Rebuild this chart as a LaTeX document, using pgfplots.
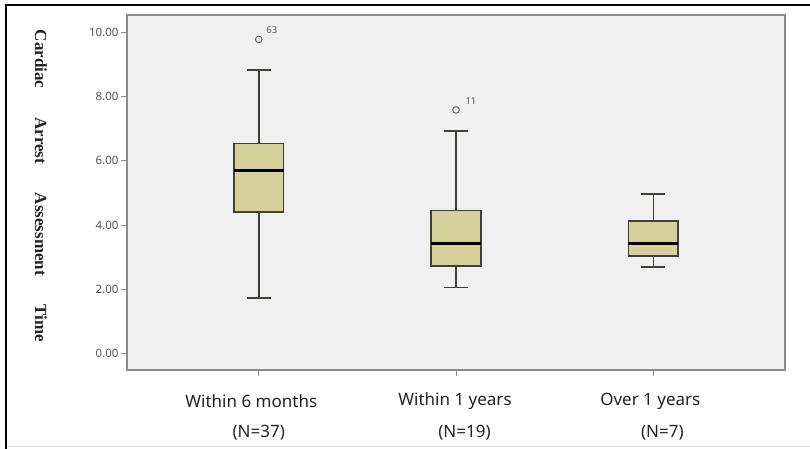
\documentclass[border=0pt]{standalone}
\usepackage{pgfplots}
\pgfplotsset{compat=1.18}
\usepgfplotslibrary{statistics}
\usepackage{fontspec}
\setmainfont{Noto Sans}
\newfontfamily\labelfont{Liberation Serif}
\definecolor{boxfill}{RGB}{214,209,154}
\definecolor{boxedge}{RGB}{65,65,58}
\definecolor{plotbg}{RGB}{240,240,240}
\definecolor{frameg}{RGB}{140,140,140}
\definecolor{ticktxt}{RGB}{85,85,85}
\definecolor{txt}{RGB}{35,35,35}
\begin{document}
\begin{tikzpicture}[x=1pt,y=1pt]
\useasboundingbox (0,0) rectangle (810,449);
\fill[white] (0,0) rectangle (810,449);
\draw[black, line width=2.5pt] (6,0) -- (6,444) -- (810,444);
\draw[black!12, line width=1pt] (7,2) -- (810,2);
\node[rotate=-90, text=txt, font=\labelfont\bfseries\fontsize{17}{17}\selectfont] at (41,263) {\makebox[312pt][s]{Cardiac Arrest Assessment Time}};
\begin{axis}[
  at={(127pt,79pt)}, anchor=south west,
  width=658pt, height=355pt, scale only axis,
  xmin=0.332, xmax=3.668, ymin=-0.52, ymax=10.55,
  clip=false,
  axis background/.style={fill=plotbg},
  axis line style={draw=frameg, line width=1.5pt},
  xtick={1,2,3}, xticklabels={},
  ytick={0,2,4,6,8,10},
  tick pos=left,
  tick align=outside,
  major tick length=6pt,
  tick style={draw=frameg, line width=1pt},
  yticklabel={\pgfmathprintnumber[fixed,fixed zerofill,precision=2,assume math mode=true]{\tick}},
  yticklabel style={font=\fontsize{11.5}{12}\selectfont, text=ticktxt, xshift=1pt},
  boxplot/draw direction=y,
  boxplot/every box/.style={draw=boxedge, fill=boxfill, line width=1.5pt},
  boxplot/every whisker/.style={draw=boxedge, line width=1.5pt},
  boxplot/every median/.style={draw=black, line width=2.4pt},
]
\addplot[boxplot prepared={draw position=1, lower whisker=1.73, lower quartile=4.40, median=5.70, upper quartile=6.55, upper whisker=8.84, box extend=0.253, whisker extend=0.122},
  mark=o, mark size=3.3pt, mark options={draw=black!60, line width=1pt}] table[row sep=\\, y index=0] {9.79\\};
\addplot[boxplot prepared={draw position=2, lower whisker=2.06, lower quartile=2.73, median=3.42, upper quartile=4.45, upper whisker=6.93, box extend=0.253, whisker extend=0.122},
  mark=o, mark size=3.3pt, mark options={draw=black!60, line width=1pt}] table[row sep=\\, y index=0] {7.59\\};
\addplot[boxplot prepared={draw position=3, lower whisker=2.69, lower quartile=3.04, median=3.43, upper quartile=4.12, upper whisker=4.97, box extend=0.253, whisker extend=0.122}] coordinates {};
\node[font=\fontsize{9.5}{10}\selectfont, text=black!65] at (axis cs:1.066,10.07) {63};
\node[font=\fontsize{9.5}{10}\selectfont, text=black!65] at (axis cs:2.076,7.85) {11};
\node[font=\fontsize{17}{18}\selectfont, text=txt] at (axis cs:0.962,-1.49) {Within 6 months};
\node[font=\fontsize{17}{18}\selectfont, text=txt] at (axis cs:1.995,-1.49) {Within 1 years};
\node[font=\fontsize{17}{18}\selectfont, text=txt] at (axis cs:2.985,-1.49) {Over 1 years};
\node[font=\fontsize{17}{18}\selectfont, text=txt] at (axis cs:1.0,-2.49) {(N=37)};
\node[font=\fontsize{17}{18}\selectfont, text=txt] at (axis cs:2.043,-2.49) {(N=19)};
\node[font=\fontsize{17}{18}\selectfont, text=txt] at (axis cs:3.046,-2.49) {(N=7)};
\end{axis}
\end{tikzpicture}
\end{document}
